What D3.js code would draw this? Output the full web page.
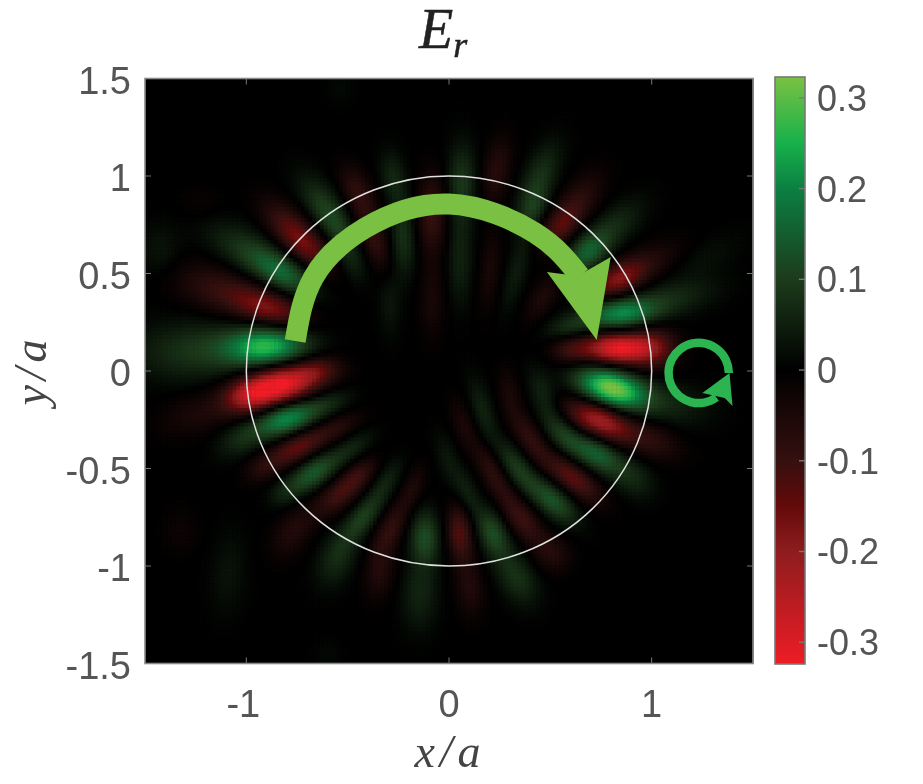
<!DOCTYPE html>
<html>
<head>
<meta charset="utf-8">
<script src="https://cdn.jsdelivr.net/npm/d3@7"></script>
<style>
  html, body { margin: 0; padding: 0; background: #fff; }
  #stage { position: relative; width: 923px; height: 784px; overflow: hidden; }
  #stage canvas, #stage svg { position: absolute; left: 0; top: 0; }
  text { font-family: "Liberation Sans", Arial, sans-serif; fill: #555; }
  .math { font-family: "Liberation Serif", serif; font-style: italic; }
</style>
</head>
<body>
<div id="stage"></div>
<script>
// Field lobes of E_r, one row per lobe:
// [x/a, y/a, long-axis angle in degrees, long sigma, short sigma, peak value]
const upperLeftLobes = [
  [-0.897, 0.128, 3, 0.14, 0.07, 0.25], [-1.241, 0.108, 3, 0.21, 0.105, 0.085],
  [-0.882, 0.323, -19, 0.13, 0.062, -0.16], [-1.128, 0.415, -19, 0.16, 0.085, -0.085],
  [-0.818, 0.503, -30, 0.12, 0.062, 0.14], [-0.995, 0.62, -30, 0.15, 0.075, 0.08],
  [-0.70, 0.636, -42, 0.12, 0.062, -0.13], [-0.798, 0.759, -45, 0.12, 0.06, -0.08],
  [-0.552, 0.738, -58, 0.12, 0.055, 0.085], [-0.635, 0.877, -55, 0.12, 0.06, 0.06],
  [-0.488, 0.559, -60, 0.085, 0.048, 0.045],
  [-0.374, 0.687, -72, 0.12, 0.05, -0.09], [-0.453, 0.928, -65, 0.095, 0.05, -0.08],
  [-0.227, 0.687, -88, 0.14, 0.044, 0.08], [-0.276, 0.995, -82, 0.095, 0.044, 0.06],
  [-0.291, 0.349, -90, 0.12, 0.038, 0.035],
  [-0.084, 0.81, 90, 0.14, 0.05, -0.1], [-0.084, 0.364, 90, 0.14, 0.044, -0.045],
  [-1.424, 0.62, 90, 0.095, 0.075, 0.035], [-1.227, 0.862, 0, 0.08, 0.06, -0.018],
  [-0.537, 1.456, 90, 0.06, 0.05, 0.014]
];
const upperRightLobes = [
  [0.064, 0.964, 90, 0.14, 0.05, 0.09], [0.054, 0.569, 90, 0.16, 0.044, 0.055],
  [0.236, 1.03, 80, 0.12, 0.05, -0.07], [0.202, 0.518, 85, 0.15, 0.038, -0.045],
  [0.448, 0.995, 68, 0.13, 0.056, 0.08], [0.414, 0.826, 70, 0.085, 0.05, 0.07],
  [0.335, 0.518, 75, 0.15, 0.038, 0.045],
  [0.645, 0.877, 55, 0.12, 0.062, -0.07], [0.547, 0.738, 55, 0.095, 0.056, -0.11],
  [0.463, 0.379, 60, 0.095, 0.044, -0.055],
  [0.808, 0.738, 42, 0.13, 0.062, 0.07], [0.68, 0.605, 42, 0.085, 0.062, 0.13],
  [0.941, 0.533, 28, 0.15, 0.062, -0.07], [0.828, 0.467, 28, 0.095, 0.056, -0.14],
  [0.842, 0.297, 5, 0.12, 0.056, 0.19], [1.074, 0.364, 15, 0.17, 0.062, 0.07],
  [1.271, 0.585, 30, 0.14, 0.062, 0.024], [0.596, 0.226, 15, 0.085, 0.044, 0.07],
  [0.828, 0.118, 0, 0.11, 0.056, -0.31], [1.005, 0.123, 0, 0.085, 0.075, -0.14],
  [0.6, 0.11, 0, 0.07, 0.05, -0.09]
];
const lowerRightLobes = [
  [0.803, -0.087, -18, 0.12, 0.066, 0.33], [1.089, -0.164, -10, 0.14, 0.075, 0.055],
  [0.744, -0.251, -25, 0.12, 0.062, -0.23], [1.005, -0.354, -25, 0.105, 0.062, -0.07],
  [0.729, -0.42, -35, 0.1, 0.056, 0.15], [0.562, -0.318, -55, 0.095, 0.05, 0.09],
  [0.463, -0.113, -72, 0.095, 0.044, 0.055],
  [0.611, -0.544, -40, 0.12, 0.05, -0.14], [0.399, -0.338, -60, 0.105, 0.044, -0.08],
  [0.30, -0.113, -80, 0.095, 0.038, -0.045],
  [0.512, -0.662, -45, 0.105, 0.05, 0.13], [0.335, -0.492, -58, 0.105, 0.044, 0.09],
  [0.167, -0.2, -75, 0.12, 0.038, 0.055],
  [0.365, -0.764, -55, 0.105, 0.05, -0.1], [0.217, -0.523, -62, 0.12, 0.041, -0.08],
  [0.069, -0.267, -75, 0.095, 0.038, -0.045],
  [0.217, -0.831, -72, 0.09, 0.05, 0.12], [0.089, -0.626, -70, 0.095, 0.038, 0.055],
  [-0.01, -0.441, -75, 0.095, 0.038, 0.035],
  [0.054, -0.831, -85, 0.1, 0.044, -0.13], [0.103, -1.108, -85, 0.105, 0.05, -0.06],
  [0.335, -1.056, -65, 0.105, 0.062, 0.08], [0.512, -0.933, -50, 0.07, 0.062, -0.06],
  [0.906, -0.544, -45, 0.085, 0.062, 0.06]
];
const lowerLeftLobes = [
  [-0.845, -0.072, 13, 0.13, 0.066, -0.34], [-1.0, -0.133, 15, 0.085, 0.062, -0.13],
  [-1.227, -0.215, 15, 0.14, 0.075, -0.05], [-0.65, 0.005, 10, 0.085, 0.05, -0.1],
  [-0.8, -0.241, 20, 0.105, 0.056, 0.21], [-0.60, -0.164, 20, 0.085, 0.044, 0.06],
  [-1.015, -0.338, 30, 0.095, 0.062, 0.07],
  [-0.749, -0.39, 27, 0.105, 0.05, -0.14], [-0.552, -0.287, 27, 0.095, 0.041, -0.06],
  [-0.916, -0.492, 30, 0.07, 0.05, -0.06],
  [-0.67, -0.523, 37, 0.105, 0.05, 0.14], [-0.473, -0.39, 37, 0.085, 0.038, 0.05],
  [-0.818, -0.626, 45, 0.06, 0.05, 0.035],
  [-0.537, -0.626, 42, 0.105, 0.05, -0.11], [-0.438, -0.523, 45, 0.07, 0.038, -0.06],
  [-0.768, -0.815, 60, 0.105, 0.062, -0.06],
  [-0.424, -0.749, 55, 0.105, 0.044, 0.1], [-0.305, -0.559, 60, 0.085, 0.038, 0.05],
  [-0.552, -0.954, 70, 0.105, 0.062, 0.07],
  [-0.291, -0.815, 65, 0.105, 0.044, -0.09], [-0.177, -0.595, 70, 0.085, 0.038, -0.05],
  [-0.34, -1.036, 80, 0.095, 0.05, -0.06],
  [-0.118, -0.851, 90, 0.095, 0.05, 0.12], [-0.143, -1.138, 88, 0.13, 0.062, 0.06],
  [-1.089, -1.036, 85, 0.15, 0.062, 0.03], [-1.325, -0.815, 90, 0.085, 0.062, -0.024],
  [-0.6, -1.45, 90, 0.06, 0.05, 0.012]
];

// Axis ticks
const xTicks = [-1, 0, 1];
const yTicks = [-1.5, -1, -0.5, 0, 0.5, 1, 1.5];
const colorTicks = [-0.3, -0.2, -0.1, 0, 0.1, 0.2, 0.3];

// Diverging red / black / green colour map
const colorStops = [-0.325, -0.2, -0.15, -0.1, 0, 0.1, 0.2, 0.25, 0.325];
const colorValues = ["#ee1c25", "#8e1c1e", "#640a0a", "#35100f", "#000000", "#1d3b1b", "#0b7f41", "#17b14b", "#7ac143"];

// Rotation arrow across the top of the disc, centre line and head, in x/a, y/a
const arrowPath = [[-0.759, 0.154], [-0.67, 0.477], [-0.414, 0.733], [0, 0.856], [0.424, 0.708], [0.645, 0.487]];
const arrowHead = [[0.483, 0.508], [0.729, 0.159], [0.798, 0.585], [0.635, 0.487]];
// Small spin marker to the right of the disc
const spinCentre = [1.232, -0.01];
const spinRadius = 0.15;
const spinHead = [[1.384, -0.01], [1.399, -0.179], [1.36, -0.138], [1.25, -0.113]];

const plot = { left: 145, right: 753, top: 78.5, bottom: 663.5 };
const x = d3.scaleLinear().domain([-1.5, 1.5]).range([plot.left, plot.right]);
const y = d3.scaleLinear().domain([-1.5, 1.5]).range([plot.bottom, plot.top]);
const color = d3.scaleLinear().domain(colorStops).range(colorValues).clamp(true);
const barScale = d3.scaleLinear().domain([-0.324, 0.323]).range([664, 77]);

const lobes = [...upperLeftLobes, ...upperRightLobes, ...lowerRightLobes, ...lowerLeftLobes];
const prepared = lobes.map(([cx, cy, deg, sLong, sShort, peak]) => {
  const a = deg * Math.PI / 180;
  return { cx, cy, cos: Math.cos(a), sin: Math.sin(a), sLong, sShort, peak };
});

function field(px, py) {
  let sum = 0;
  for (const l of prepared) {
    const dx = px - l.cx, dy = py - l.cy;
    const u = (dx * l.cos + dy * l.sin) / l.sLong;
    const v = (-dx * l.sin + dy * l.cos) / l.sShort;
    const e = 0.5 * (u * u + v * v);
    if (e < 12) sum += l.peak * Math.exp(-e);
  }
  return sum;
}

const stage = d3.select("#stage");

// Field map on a regular grid of cells
const canvas = stage.append("canvas").attr("width", 923).attr("height", 784).node();
const ctx = canvas.getContext("2d");
ctx.fillStyle = "#000";
ctx.fillRect(plot.left, plot.top, plot.right - plot.left, plot.bottom - plot.top);
const cellCount = 160;
const cellStep = 3 / cellCount;
d3.range(cellCount).forEach(i => {
  d3.range(cellCount).forEach(j => {
    const xv = -1.5 + i * cellStep, yv = -1.5 + j * cellStep;
    ctx.fillStyle = color(field(xv + cellStep / 2, yv + cellStep / 2));
    ctx.fillRect(x(xv), y(yv + cellStep), x(xv + cellStep) - x(xv) + 0.5, y(yv) - y(yv + cellStep) + 0.5);
  });
});

const svg = stage.append("svg").attr("width", 923).attr("height", 784);

// Disc boundary at r = a
svg.append("ellipse")
  .attr("cx", x(0)).attr("cy", y(0))
  .attr("rx", x(1) - x(0)).attr("ry", y(0) - y(1))
  .attr("fill", "none").attr("stroke", "#e0e0e0").attr("stroke-width", 1.5);

// Rotation arrow
svg.append("path")
  .attr("d", d3.line().x(d => x(d[0])).y(d => y(d[1])).curve(d3.curveNatural)(arrowPath))
  .attr("fill", "none").attr("stroke", "#7ac143").attr("stroke-width", 21);
svg.append("path")
  .attr("d", d3.line().x(d => x(d[0])).y(d => y(d[1])).curve(d3.curveLinearClosed)(arrowHead))
  .attr("fill", "#7ac143");

// Spin marker
const spinX = x(spinCentre[0]), spinY = y(spinCentre[1]);
svg.append("path")
  .attr("transform", `translate(${spinX},${spinY})`)
  .attr("d", d3.arc()
    .innerRadius(x(spinRadius) - x(0) - 4.5).outerRadius(x(spinRadius) - x(0) + 4)
    .startAngle(Math.PI * 0.8).endAngle(Math.PI * 2.5)())
  .attr("fill", "#2bb44f");
svg.append("path")
  .attr("d", d3.line().x(d => x(d[0])).y(d => y(d[1])).curve(d3.curveLinearClosed)(spinHead))
  .attr("fill", "#2bb44f");

// Plot frame and ticks
const frame = svg.append("g");
frame.append("rect")
  .attr("x", plot.left).attr("y", plot.top)
  .attr("width", plot.right - plot.left).attr("height", plot.bottom - plot.top)
  .attr("fill", "none").attr("stroke", "#8a8a8a").attr("stroke-width", 1.6);
const tickLen = 6;
xTicks.forEach(t => {
  frame.append("line").attr("x1", x(t)).attr("x2", x(t)).attr("y1", plot.bottom).attr("y2", plot.bottom - tickLen).attr("stroke", "#777");
  frame.append("line").attr("x1", x(t)).attr("x2", x(t)).attr("y1", plot.top).attr("y2", plot.top + tickLen).attr("stroke", "#777");
  frame.append("text").attr("x", x(t) - (t < 0 ? 3 : 0)).attr("y", 717)
    .attr("text-anchor", "middle").attr("font-size", 38).text(t);
});
yTicks.forEach(t => {
  if (Math.abs(t) !== 1.5) {
    frame.append("line").attr("x1", plot.left).attr("x2", plot.left + tickLen).attr("y1", y(t)).attr("y2", y(t)).attr("stroke", "#777");
    frame.append("line").attr("x1", plot.right).attr("x2", plot.right - tickLen).attr("y1", y(t)).attr("y2", y(t)).attr("stroke", "#777");
  }
  frame.append("text").attr("x", 131).attr("y", y(t) + 15)
    .attr("text-anchor", "end").attr("font-size", 38).text(t);
});

// Colour bar
const gradient = svg.append("defs").append("linearGradient")
  .attr("id", "fieldRamp").attr("x1", 0).attr("x2", 0).attr("y1", 1).attr("y2", 0);
colorStops.forEach((v, i) => {
  gradient.append("stop")
    .attr("offset", (barScale(-0.324) - barScale(v)) / (barScale(-0.324) - barScale(0.323)))
    .attr("stop-color", colorValues[i]);
});
const bar = svg.append("g");
bar.append("rect")
  .attr("x", 775).attr("y", barScale(0.323)).attr("width", 30).attr("height", barScale(-0.324) - barScale(0.323))
  .attr("fill", "url(#fieldRamp)").attr("stroke", "#777").attr("stroke-width", 1.6);
colorTicks.forEach(t => {
  bar.append("line").attr("x1", 799).attr("x2", 805).attr("y1", barScale(t)).attr("y2", barScale(t)).attr("stroke", "#777").attr("stroke-width", 1.4);
  bar.append("text").attr("x", 817).attr("y", barScale(t) + 13)
    .attr("font-size", 36).text(t);
});

// Title and axis names
const title = svg.append("text").attr("class", "math").attr("x", 419).attr("y", 48)
  .attr("font-size", 56).attr("stroke", "#222").attr("stroke-width", 0.5).style("fill", "#222");
title.append("tspan").text("E");
title.append("tspan").attr("dy", 9).attr("font-size", 36).text("r");

svg.append("text").attr("class", "math").attr("x", 450).attr("y", 767)
  .attr("text-anchor", "middle").attr("font-size", 46).attr("letter-spacing", 5).style("fill", "#444").text("x/a");
svg.append("text").attr("class", "math")
  .attr("transform", "translate(46,370) rotate(-90)")
  .attr("text-anchor", "middle").attr("font-size", 46).attr("letter-spacing", 5).style("fill", "#444").text("y/a");
</script>
</body>
</html>
